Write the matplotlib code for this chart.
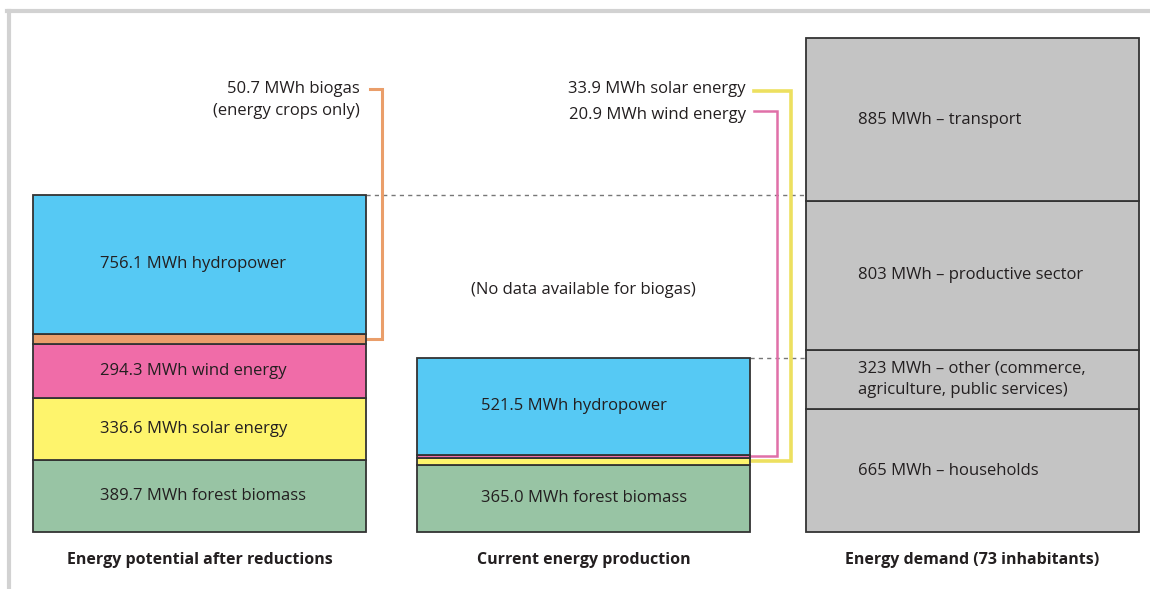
import matplotlib.pyplot as plt
from matplotlib.lines import Line2D

plt.rcParams['font.family'] = ['Open Sans', 'DejaVu Sans']

# stacks, bottom to top
potential_names = ['forest biomass', 'solar energy', 'wind energy', 'biogas', 'hydropower']
potential_vals = [389.7, 336.6, 294.3, 50.7, 756.1]

current_names = ['forest biomass', 'solar energy', 'wind energy', 'hydropower']
current_vals = [365.0, 33.9, 20.9, 521.5]

demand_names = ['households', 'other (commerce,\nagriculture, public services)',
                'productive sector', 'transport']
demand_vals = [665, 323, 803, 885]

group_labels = ['Energy potential after reductions', 'Current energy production',
                'Energy demand (73 inhabitants)']

colors = {
    'forest biomass': '#98c4a4',
    'solar energy': '#fef46c',
    'wind energy': '#f06ca8',
    'biogas': '#ea9e6a',
    'hydropower': '#56c9f4',
}
demand_color = '#c4c4c4'
text_color = '#231f20'

W, H = 1150, 589
fig = plt.figure(figsize=(W / 100, H / 100), dpi=100)
ax = fig.add_axes([0, 0, 1, 1])
scale = 0.1846  # px per MWh
base_px = 532
ax.set_xlim(0, W)
ax.set_ylim(-(H - base_px) / scale, base_px / scale)
ax.axis('off')


def py(p):
    # pixel row -> data y (layout only)
    return (base_px - p) / scale


bar_w = 333
lefts = [33, 417, 806]
text_off = [67, 64, 52]

# left: potential
bottom = 0
mids_p = {}
for n, v in zip(potential_names, potential_vals):
    ax.bar(lefts[0], v, width=bar_w, bottom=bottom, align='edge', color=colors[n],
           edgecolor='#333333', linewidth=1.3, zorder=2)
    mids_p[n] = bottom + v / 2
    if n != 'biogas':
        ax.text(lefts[0] + text_off[0], bottom + v / 2, f'{v:.1f} MWh {n}',
                va='center', ha='left', fontsize=12, color=text_color, zorder=3)
    bottom += v
top_p = bottom

# middle: current production
bottom = 0
mids_c = {}
for n, v in zip(current_names, current_vals):
    ax.bar(lefts[1], v, width=bar_w, bottom=bottom, align='edge', color=colors[n],
           edgecolor='#333333', linewidth=1.3, zorder=2)
    mids_c[n] = bottom + v / 2
    if n in ('forest biomass', 'hydropower'):
        ax.text(lefts[1] + text_off[1], bottom + v / 2, f'{v:.1f} MWh {n}',
                va='center', ha='left', fontsize=12, color=text_color, zorder=3)
    bottom += v
top_c = bottom

# right: demand
bottom = 0
for n, v in zip(demand_names, demand_vals):
    ax.bar(lefts[2], v, width=bar_w, bottom=bottom, align='edge', color=demand_color,
           edgecolor='#333333', linewidth=1.3, zorder=2)
    ax.text(lefts[2] + text_off[2], bottom + v / 2, f'{v} MWh – {n}',
            va='center', ha='left', fontsize=12, color=text_color, zorder=3,
            linespacing=1.45)
    bottom += v

# dashed guides to demand bar
ax.plot([lefts[0] + bar_w, lefts[2]], [top_p, top_p], ls=(0, (3, 3)), color='#777777', lw=1, zorder=1)
ax.plot([lefts[1] + bar_w, lefts[2]], [top_c, top_c], ls=(0, (3, 3)), color='#777777', lw=1, zorder=1)

# callouts
ax.text(360, py(89), f'{potential_vals[3]:.1f} MWh biogas', ha='right', va='center', fontsize=12, color=text_color)
ax.text(360, py(111), '(energy crops only)', ha='right', va='center', fontsize=12, color=text_color)
ax.plot([370, 382, 382, lefts[0] + bar_w], [py(89), py(89), mids_p['biogas'], mids_p['biogas']],
        color='#ea9e6a', lw=2.2, solid_joinstyle='miter', zorder=1)

ax.text(746, py(89), f'{current_vals[1]:.1f} MWh solar energy', ha='right', va='center', fontsize=12, color=text_color)
ax.text(746, py(115), f'{current_vals[2]:.1f} MWh wind energy', ha='right', va='center', fontsize=12, color=text_color)
ax.plot([754, 791, 791, lefts[1] + bar_w], [py(91), py(91), mids_c['solar energy'], mids_c['solar energy']],
        color='#ede060', lw=2.6, solid_joinstyle='miter', zorder=1)
ax.plot([754, 777, 777, lefts[1] + bar_w], [py(111), py(111), mids_c['wind energy'], mids_c['wind energy']],
        color='#e070a8', lw=1.8, solid_joinstyle='miter', zorder=1)

ax.text(583, py(290), '(No data available for biogas)', ha='center', va='center', fontsize=12, color=text_color)

for x0, lab in zip(lefts, group_labels):
    ax.text(x0 + bar_w / 2, py(560), lab, ha='center', va='center', fontsize=11.5,
            fontweight='bold', color=text_color)

# light frame (top and left)
fig.add_artist(Line2D([7 / W, 1], [1 - 11 / H, 1 - 11 / H], color='#d2d2d2', lw=3))
fig.add_artist(Line2D([9 / W, 9 / W], [0, 1 - 11 / H], color='#d2d2d2', lw=3))

fig.savefig('out.png', dpi=100)
